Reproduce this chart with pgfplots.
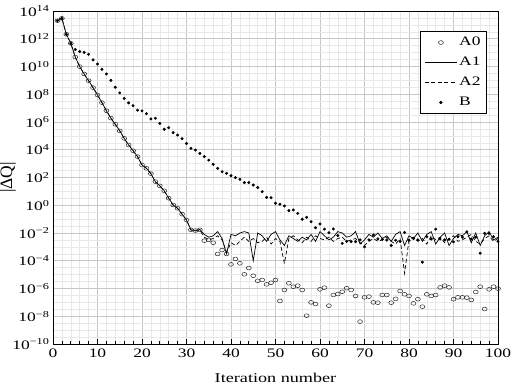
\documentclass[border=0pt]{standalone}
\usepackage{fontspec}
\setmainfont{Liberation Serif}[FakeStretch=1.35]
\newfontfamily\plainserif{Liberation Serif}
\usepackage{pgfplots}
\pgfplotsset{compat=1.18}
\usepackage{pgfplotstable}

% residual per iteration for the four runs
\pgfplotstableread{
it  a0       a1       a2       b
1   2.0e13   2.0e13   2.0e13   2.0e13
2   2.95e13  2.95e13  2.95e13  2.95e13
3   2.1e12   2.1e12   2.1e12   2.1e12
4   4.7e11   4.7e11   4.7e11   4.7e11
5   4.8e10   4.8e10   4.8e10   1.7e11
6   9.8e9    9.8e9    9.8e9    1.2e11
7   2.9e9    2.9e9    2.9e9    1.05e11
8   9.5e8    9.5e8    9.5e8    7.6e10
9   3.0e8    3.0e8    3.0e8    3.0e10
10  8.9e7    8.9e7    8.9e7    1.5e10
11  2.5e7    2.5e7    2.5e7    6.3e9
12  6.5e6    6.5e6    6.5e6    2.9e9
13  1.9e6    1.9e6    1.9e6    1.0e9
14  6.8e5    6.8e5    6.8e5    3.2e8
15  2.3e5    2.3e5    2.3e5    1.26e8
16  6.6e4    6.6e4    6.6e4    5.0e7
17  2.2e4    2.2e4    2.2e4    2.4e7
18  8.5e3    8.5e3    8.5e3    1.5e7
19  3.2e3    3.2e3    3.2e3    7.1e6
20  7.9e2    7.9e2    7.9e2    6.3e6
21  4.6e2    4.6e2    4.6e2    4.0e6
22  1.9e2    1.9e2    1.9e2    1.66e6
23  50       50       50       1.86e6
24  25       25       25       7.9e5
25  11       11       11       3.0e5
26  3.2      3.2      3.2      3.9e5
27  1.05     1.05     1.05     1.7e5
28  0.6      0.6      0.6      1.15e5
29  0.23     0.23     0.23     6.3e4
30  8.7e-2   8.7e-2   8.7e-2   2.8e4
31  1.7e-2   1.7e-2   1.6e-2   1.26e4
32  1.5e-2   1.5e-2   1.4e-2   9.5e3
33  1.7e-2   1.8e-2   1.6e-2   5.5e3
34  2.8e-3   7.9e-3   5.0e-3   3.2e3
35  3.2e-3   5.0e-3   3.2e-3   1.8e3
36  2.0e-3   6.3e-3   4.0e-3   8.9e2
37  3.1e-4   1.26e-2  6.3e-3   4.6e2
38  5.9e-4   4.0e-3   3.2e-3   2.6e2
39  3.1e-4   3.2e-4   4.0e-4   2.0e2
40  5.5e-5   7.9e-3   2.0e-3   1.35e2
41  1.35e-4  6.3e-3   1.26e-3  98
42  6.5e-5   1.0e-2   2.5e-3   74
43  1.05e-5  1.26e-2  5.0e-3   43
44  3.0e-5   1.0e-2   2.5e-3   43
45  8.3e-6   1.0e-4   4.0e-3   29
46  3.6e-6   1.0e-2   2.0e-3   19
47  4.1e-6   6.3e-3   2.5e-3   9.5
48  2.0e-6   2.5e-3   5.0e-3   3.7
49  2.6e-6   7.9e-3   1.6e-3   3.5
50  4.1e-6   1.26e-2  4.0e-3   1.4
51  1.26e-7  3.2e-3   2.5e-3   1.2
52  7.8e-7   1.26e-3  6.3e-5   0.89
53  2.4e-6   6.3e-3   4.0e-3   0.41
54  1.35e-6  4.0e-3   6.3e-3   0.46
55  1.6e-6   2.5e-3   3.2e-3   0.26
56  7.8e-7   5.0e-3   2.0e-3   9.8e-2
57  1.1e-8   3.2e-3   5.0e-3   0.135
58  1.0e-7   7.9e-3   2.5e-3   6.5e-2
59  7.6e-8   2.5e-3   6.3e-3   2.4e-2
60  8.7e-7   1.26e-2  4.0e-3   4.5e-2
61  1.15e-6  6.3e-3   3.2e-3   1.9e-2
62  5.8e-8   3.2e-3   5.0e-3   1.05e-2
63  3.4e-7   5.0e-3   2.5e-3   1.95e-2
64  4.0e-7   1.26e-2  4.0e-3   6.5e-3
65  5.9e-7   1.0e-2   5.0e-3   1.8e-3
66  1.05e-6  5.0e-3   2.5e-3   2.5e-3
67  7.8e-7   6.3e-3   3.2e-3   2.4e-3
68  2.9e-7   1.26e-2  4.0e-3   2.4e-3
69  4.1e-9   1.6e-3   2.0e-3   3.2e-3
70  2.3e-7   3.2e-3   1.26e-3  1.0e-3
71  2.6e-7   7.9e-3   2.5e-3   3.2e-3
72  1.0e-7   5.0e-3   4.0e-3   7.2e-3
73  9.5e-8   1.0e-2   2.5e-3   3.8e-3
74  3.4e-7   4.0e-3   3.2e-3   3.5e-3
75  3.4e-7   6.3e-3   5.0e-3   3.1e-3
76  9.5e-8   2.5e-3   2.5e-3   1.26e-3
77  1.8e-7   7.9e-3   1.6e-3   3.0e-3
78  6.6e-7   1.26e-2  4.0e-3   2.5e-3
79  3.8e-7   1.26e-3  1.26e-5  1.1e-2
80  2.9e-7   6.3e-3   3.2e-3   3.0e-3
81  8.5e-8   4.0e-3   5.0e-3   4.0e-3
82  1.7e-7   1.0e-2   2.5e-3   3.2e-3
83  4.9e-8   2.5e-3   4.0e-3   7.9e-5
84  3.8e-7   7.9e-3   1.6e-3   5.4e-3
85  2.9e-7   1.26e-2  6.3e-3   3.7e-3
86  3.4e-7   1.6e-3   3.2e-3   1.9e-2
87  1.2e-6   5.0e-3   5.0e-3   3.7e-3
88  1.6e-6   1.0e-2   2.0e-3   3.2e-3
89  1.2e-6   1.26e-3  4.0e-3   3.5e-3
90  1.7e-7   4.0e-3   6.3e-3   2.3e-3
91  2.3e-7   7.9e-3   2.5e-3   5.4e-3
92  2.3e-7   6.3e-3   3.2e-3   5.0e-3
93  2.2e-7   1.26e-2  5.0e-3   1.23e-2
94  1.5e-7   2.0e-3   7.9e-3   3.7e-3
95  5.6e-7   1.0e-2   2.5e-3   5.0e-3
96  1.35e-6  1.26e-3  1.6e-3   3.5e-4
97  3.3e-8   6.3e-3   4.0e-3   9.5e-3
98  8.7e-7   1.26e-2  6.3e-3   9.5e-3
99  1.35e-6  3.2e-3   2.5e-3   5.4e-3
100 9.8e-7   5.0e-3   4.0e-3   2.5e-3
}\resid

\begin{document}
\fontsize{13}{15}\selectfont
\begin{tikzpicture}
\begin{axis}[
  width=445bp, height=333bp, scale only axis,
  xmin=0, xmax=100,
  ymode=log, ymin=1e-10, ymax=1e14,
  xtick={0,10,...,100},
  minor x tick num=4,
  ytick={1e-10,1e-8,1e-6,1e-4,1e-2,1,1e2,1e4,1e6,1e8,1e10,1e12,1e14},
  yticklabels={10\textsuperscript{−10},10\textsuperscript{−8},10\textsuperscript{−6},
    10\textsuperscript{−4},10\textsuperscript{−2},10\textsuperscript{0},
    10\textsuperscript{2},10\textsuperscript{4},10\textsuperscript{6},
    10\textsuperscript{8},10\textsuperscript{10},10\textsuperscript{12},
    10\textsuperscript{14}},
  minor ytick={3.162e-10,1e-9,3.162e-9,3.162e-8,1e-7,3.162e-7,3.162e-6,1e-5,3.162e-5,
    3.162e-4,1e-3,3.162e-3,3.162e-2,1e-1,3.162e-1,3.162,10,31.62,316.2,1e3,3162,
    3.162e4,1e5,3.162e5,3.162e6,1e7,3.162e7,3.162e8,1e9,3.162e9,3.162e10,1e11,
    3.162e11,3.162e12,1e13,3.162e13},
  grid=both,
  major grid style={draw=black!22, line width=1pt},
  minor grid style={draw=black!9, line width=0.5pt},
  axis line style={line width=1pt},
  tick align=inside,
  xtick pos=bottom,
  x tick style={black, line width=0.7pt},
  y tick style={draw=none},
  major tick length=5bp, minor tick length=3.5bp,
  /pgf/number format/assume math mode=true,
  ticklabel style={font=\fontsize{13}{15}\selectfont},
  yticklabel style={xshift=1bp},
  xlabel={Iteration number},
  ylabel={\plainserif |ΔQ|},
  xlabel style={font=\fontsize{13.5}{16}\selectfont,
    at={(axis description cs:0.5,-0.102)}, anchor=center},
  ylabel style={font=\fontsize{17.5}{20}\selectfont,
    at={(axis description cs:-0.101,0.5)}, anchor=center},
  legend style={at={(0.975,0.94)}, anchor=north east, draw=black,
    line width=0.6pt, font=\fontsize{13}{15}\selectfont,
    cells={anchor=west}, row sep=5.5bp, inner xsep=4bp, inner ysep=4bp},
  legend image code/.code={\draw[mark repeat=2, mark phase=2, #1]
    plot coordinates {(0bp,0bp) (16bp,0bp) (32bp,0bp)};},
  legend image post style={line width=0.6pt},
]
\addplot[only marks, mark=o, mark size=1.9bp,
  mark options={line width=0.5pt, xscale=1.3}, black!85]
  table[x=it, y=a0]{\resid};
\addplot[black, line width=0.7pt] table[x=it, y=a1]{\resid};
\addplot[black, line width=0.7pt, dash pattern=on 4bp off 2.5bp] table[x=it, y=a2]{\resid};
\addplot[only marks, mark=*, mark size=1.3bp, black] table[x=it, y=b]{\resid};
\legend{A0, A1, A2, B}
\end{axis}
\pgfresetboundingbox
\useasboundingbox ([xshift=-53bp,yshift=-44bp]current axis.south west)
  rectangle ([xshift=16bp,yshift=11bp]current axis.north east);
\end{tikzpicture}
\end{document}
